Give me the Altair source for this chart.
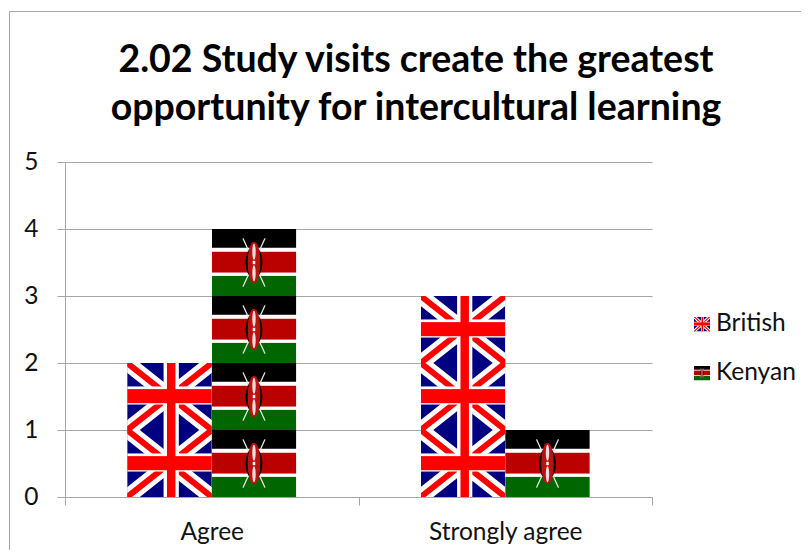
import base64
import altair as alt
import pandas as pd

categories = ["Agree", "Strongly agree"]
series_names = ["British", "Kenyan"]
british_values = [2, 3]
kenyan_values = [4, 1]
title_lines = ["2.02 Study visits create the greatest", "opportunity for intercultural learning"]

UK_SVG = """<svg xmlns="http://www.w3.org/2000/svg" width="168" height="134" viewBox="0 0 100 100" preserveAspectRatio="none">
<rect width="100" height="100" fill="#000080"/>
<path d="M0,0L100,100M100,0L0,100" stroke="#fff" stroke-width="21"/>
<path d="M0,0L100,100M100,0L0,100" stroke="#f00" stroke-width="8"/>
<rect x="43" width="18" height="100" fill="#fff"/>
<rect y="35" width="100" height="27" fill="#fff"/>
<rect x="47" width="10" height="100" fill="#f00"/>
<rect y="39" width="100" height="21" fill="#f00"/>
</svg>"""

KE_SVG = """<svg xmlns="http://www.w3.org/2000/svg" width="168" height="134" viewBox="0 0 100 100" preserveAspectRatio="none">
<rect width="100" height="100" fill="#fff"/>
<rect width="100" height="28" fill="#000"/>
<rect y="34" width="100" height="31" fill="#bb0000"/>
<rect y="70" width="100" height="30" fill="#006600"/>
<path d="M37,14L63,86M63,14L37,86" stroke="#e8e8e8" stroke-width="1.6"/>
<ellipse cx="50" cy="50" rx="10" ry="24" fill="#000"/>
<ellipse cx="50" cy="50" rx="7.5" ry="31" fill="#bb1111"/>
<ellipse cx="50" cy="34" rx="2" ry="12" fill="#f4dcdc"/>
<ellipse cx="50" cy="66" rx="2" ry="12" fill="#f4dcdc"/>
<rect x="48.5" y="47.5" width="3" height="5" fill="#fff"/>
</svg>"""


def uri(svg):
    return "data:image/svg+xml;base64," + base64.b64encode(svg.encode()).decode()


urls = {"British": uri(UK_SVG), "Kenyan": uri(KE_SVG)}

rows = []
for name, vals in zip(series_names, [british_values, kenyan_values]):
    for cat, v in zip(categories, vals):
        for i in range(v):
            rows.append({"category": cat, "series": name, "unit": i + 0.5, "url": urls[name]})
df = pd.DataFrame(rows)

GREY = "#a6a6a6"
FONT = "Lato"
FS = 24.5

x = alt.X("category:N", sort=categories, title=None,
          scale=alt.Scale(paddingInner=0, paddingOuter=0),
          axis=alt.Axis(labelAngle=0, labelFontSize=FS, labelFont=FONT, labelColor="#111",
                        labelFontWeight="normal",
                        tickBand="extent", tickSize=8, tickColor=GREY, domainColor=GREY,
                        labelPadding=15, grid=False))
y = alt.Y("unit:Q", title=None,
          scale=alt.Scale(domain=[0, 5], nice=False),
          axis=alt.Axis(values=[0, 1, 2, 3, 4, 5], format="d", labelFontSize=FS, labelFont=FONT,
                        labelColor="#111", tickSize=8, tickColor=GREY, domainColor=GREY,
                        gridColor=GREY, grid=True, gridOpacity=1, labelPadding=19))

flags = alt.Chart(df).mark_image(width=84.6, height=67, aspect=False).encode(
    x=x,
    y=y,
    xOffset=alt.XOffset("series:N", sort=series_names,
                        scale=alt.Scale(paddingInner=0, paddingOuter=0.737)),
    url="url:N",
)

one = pd.DataFrame({"k": [0]})
frame_top = alt.Chart(one).mark_rule(color=GREY, strokeWidth=1).encode(
    x=alt.value(-55.5), x2=alt.value(744), y=alt.value(-150.5))
frame_left = alt.Chart(one).mark_rule(color=GREY, strokeWidth=1).encode(
    x=alt.value(-55.5), y=alt.value(-150.5), y2=alt.value(396))

title_layers = []
for line, ypos in zip(title_lines, [-101, -53]):
    d = pd.DataFrame({"line": [line]})
    title_layers.append(alt.Chart(d).mark_text(align="center", baseline="middle", fontSize=37.5,
                                               fontWeight="bold", font=FONT, color="#000").encode(
        x=alt.value(351), y=alt.value(ypos), text="line:N"))

legend_layers = []
for name, ypos in zip(series_names, [162, 211]):
    d = pd.DataFrame({"label": [name], "url": [urls[name]]})
    legend_layers.append(alt.Chart(d).mark_image(width=16, height=15, aspect=False).encode(
        x=alt.value(637), y=alt.value(ypos), url="url:N"))
    legend_layers.append(alt.Chart(d).mark_text(align="left", baseline="middle", fontSize=FS,
                                                font=FONT, color="#111").encode(
        x=alt.value(651), y=alt.value(ypos), text="label:N"))

chart = alt.layer(frame_top, frame_left, flags, *title_layers, *legend_layers).properties(
    width=587, height=335,
    padding={"left": 57, "top": 154, "right": 149, "bottom": 53},
    autosize=alt.AutoSizeParams(type="none"),
).configure_view(stroke=None)

chart.save("out.html", embed_options={"renderer": "svg", "actions": False})
